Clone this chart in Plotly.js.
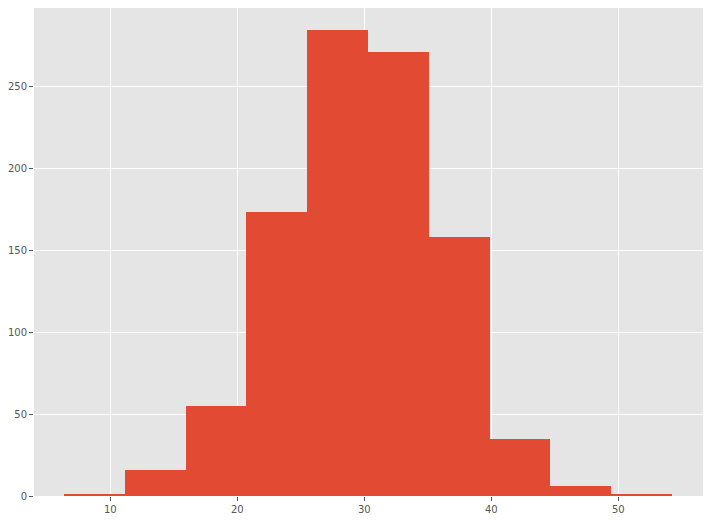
<!DOCTYPE html>
<html>
<head>
<meta charset="utf-8">
<script src="https://cdn.plot.ly/plotly-3.0.1.min.js"></script>
<style>html,body{margin:0;padding:0;background:#fff;}#chart{width:710px;height:520px;}</style>
</head>
<body>
<div id="chart"></div>
<script>
const binEdges = [6.35, 11.14, 15.92, 20.71, 25.50, 30.29, 35.07, 39.86, 44.65, 49.43, 54.22];
const counts = [1, 16, 55, 173, 284, 271, 158, 35, 6, 1];
const xTicks = [10, 20, 30, 40, 50];
const yTicks = [0, 50, 100, 150, 200, 250];

const centers = counts.map((_, i) => (binEdges[i] + binEdges[i + 1]) / 2);
const widths = counts.map((_, i) => binEdges[i + 1] - binEdges[i]);

const trace = {
  type: 'bar',
  x: centers,
  y: counts,
  width: widths,
  marker: { color: '#E24A33', line: { width: 0 } },
  hoverinfo: 'x+y'
};

const layout = {
  width: 710,
  height: 520,
  margin: { l: 34, r: 7, t: 8, b: 24 },
  paper_bgcolor: '#ffffff',
  plot_bgcolor: '#E5E5E5',
  font: { family: 'DejaVu Sans, sans-serif', size: 10, color: '#555555' },
  showlegend: false,
  bargap: 0,
  xaxis: {
    range: [3.99, 56.67],
    tickvals: xTicks,
    ticktext: xTicks.map(String),
    showgrid: true,
    gridcolor: '#ffffff',
    gridwidth: 1,
    zeroline: false,
    ticks: 'outside',
    ticklen: 4,
    tickcolor: '#555555',
    showline: false
  },
  yaxis: {
    range: [0, 297.6],
    tickvals: yTicks,
    ticktext: yTicks.map(String),
    showgrid: true,
    gridcolor: '#ffffff',
    gridwidth: 1,
    zeroline: false,
    ticks: 'outside',
    ticklen: 4,
    tickcolor: '#555555',
    showline: false
  }
};

Plotly.newPlot('chart', [trace], layout, { displayModeBar: false, staticPlot: true });
</script>
</body>
</html>
